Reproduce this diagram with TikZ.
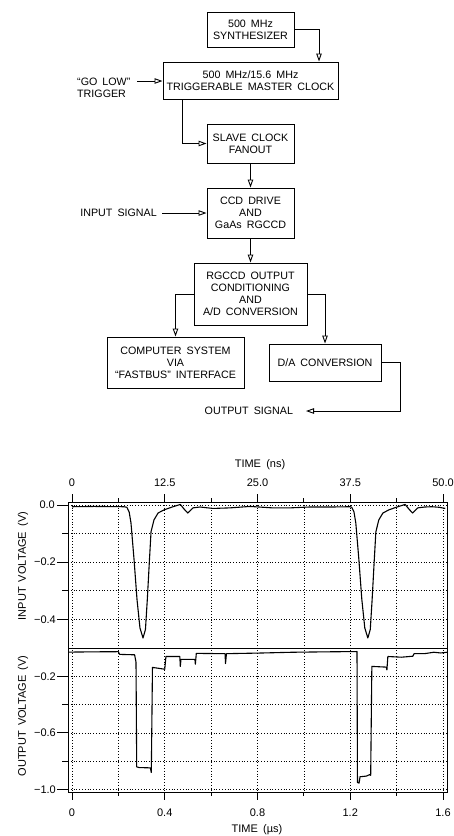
\documentclass[tikz,border=0pt]{standalone}
\usepackage{fontspec}
\setmainfont[WordSpace=1.7]{Liberation Sans}
\usetikzlibrary{arrows.meta}
\begin{document}
\begin{tikzpicture}[x=1pt,y=-1pt,
  box/.style={draw, line width=1pt, align=center, inner sep=0pt,
    font=\fontsize{10.7}{12}\selectfont},
  arr/.style={line width=0.9pt, -{Triangle[open,length=8pt,width=5.5pt]}},
  lbl/.style={inner sep=0pt, font=\fontsize{10.7}{12}\selectfont},
  tlbl/.style={inner sep=0pt, font=\fontsize{11}{12}\selectfont},
  frame/.style={line width=1pt},
  gridln/.style={line width=0.7pt, dash pattern=on 0.8pt off 2pt},
  wave/.style={line width=1.1pt, line join=round}]
\fill[white] (0,0) rectangle (454,836);
\useasboundingbox (0,0) rectangle (454,836);

% ---------------- block diagram ----------------
\node[box, minimum width=87pt, minimum height=35pt] (synth) at (250.5,29.5) {500 MHz\\SYNTHESIZER};
\node[box, minimum width=175pt, minimum height=37pt] (master) at (250.5,80.5) {500 MHz/15.6 MHz\\TRIGGERABLE MASTER CLOCK};
\node[box, minimum width=87pt, minimum height=39pt] (slave) at (250.5,143.5) {SLAVE CLOCK\\FANOUT};
\node[box, minimum width=87pt, minimum height=50pt] (ccd) at (250.5,213) {CCD DRIVE\\AND\\GaAs RGCCD};
\node[box, minimum width=113pt, minimum height=62pt] (rgccd) at (250.5,294) {RGCCD OUTPUT\\CONDITIONING\\AND\\A/D CONVERSION};
\node[box, minimum width=137pt, minimum height=51pt] (comp) at (175.5,362.5) {COMPUTER SYSTEM\\VIA\\“FASTBUS” INTERFACE};
\node[box, minimum width=112pt, minimum height=37pt] (da) at (325,362.5) {D/A CONVERSION};

\node[lbl, align=left, anchor=west] (trig) at (77,87.5) {“GO LOW”\\TRIGGER};
\coordinate (tg) at (137,81);
\node[lbl, anchor=east] (insig) at (157,213) {INPUT SIGNAL};
\node[lbl, anchor=east, outer xsep=13pt] (outsig) at (306,411) {OUTPUT SIGNAL};
\coordinate (dcorner) at (400,411);

\draw[arr] (synth.east) -| ([xshift=68.5pt]master.north);
\draw[arr] (tg) -- (tg -| master.west);
\draw[arr] ([xshift=-68.5pt]master.south) |- (slave.west);
\draw[arr] (slave.south) -- (ccd.north);
\draw[arr] ([xshift=5pt]insig.east) -- (ccd.west);
\draw[arr] (ccd.south) -- (rgccd.north);
\draw[arr] (rgccd.west) -| (comp.north);
\draw[arr] (rgccd.east) -| (da.north);
\draw[arr] (da.east) -| (dcorner) -- (outsig.east);

% ---------------- plots ----------------
% grid
\foreach \i in {0,...,8}
  \draw[gridln] ({72+46.375*\i},502) -- ({72+46.375*\i},792);
\foreach \yy in {505,533.6,562.2,590.8,619.4,676.3,704.6,732.9,761.2,789.5}
  \draw[gridln] (68,\yy) -- (447,\yy);
% frame
\draw[frame] (68,502) rectangle (447,792);
\draw[frame] (68,648) -- (447,648);
% top/bottom ticks
\foreach \i in {0,2,4,6,8} {
  \draw[frame] ({72+46.375*\i},502) -- ({72+46.375*\i},494);
  \draw[frame] ({72+46.375*\i},792) -- ({72+46.375*\i},800);
}
\foreach \i in {1,3,5,7} {
  \draw[frame] ({72+46.375*\i},502) -- ({72+46.375*\i},498);
  \draw[frame] ({72+46.375*\i},792) -- ({72+46.375*\i},796);
}
% left ticks
\foreach \yy in {505,562.2,619.4,676.3,732.9,789.5}
  \draw[frame] (57,\yy) -- (68,\yy);
\foreach \yy in {533.6,590.8,704.6,761.2}
  \draw[frame] (62,\yy) -- (68,\yy);

% tick labels
\node[tlbl] at (72,483) {0};
\node[tlbl] at (164.75,483) {12.5};
\node[tlbl] at (257.5,483) {25.0};
\node[tlbl] at (350.25,483) {37.5};
\node[tlbl] at (443,483) {50.0};
\node[tlbl] at (72,813) {0};
\node[tlbl] at (164.75,813) {0.4};
\node[tlbl] at (257.5,813) {0.8};
\node[tlbl] at (350.25,813) {1.2};
\node[tlbl] at (443,813) {1.6};
\node[tlbl, anchor=east] at (55,505) {0.0};
\node[tlbl, anchor=east] at (56,562.2) {−0.2};
\node[tlbl, anchor=east] at (56,619.4) {−0.4};
\node[tlbl, anchor=east] at (56,676.3) {−0.2};
\node[tlbl, anchor=east] at (56,732.9) {−0.6};
\node[tlbl, anchor=east] at (56,789.5) {−1.0};
\node[tlbl] at (260,465) {TIME (ns)};
\node[tlbl] at (257,830) {TIME (µs)};
\node[tlbl, rotate=90] at (23,566) {INPUT VOLTAGE (V)};
\node[tlbl, rotate=90] at (23,716) {OUTPUT VOLTAGE (V)};

% input waveform (t in ns, V in volts)
\begin{scope}[shift={(72pt,-505pt)}, x={(7.42pt,0pt)}, y={(0pt,286pt)}]
\draw[wave] (0,-0.006) -- (3,-0.005) -- (7.0,-0.006) -- (7.4,-0.008) -- (7.7,-0.024)
 -- (7.95,-0.063) -- (8.36,-0.19) -- (8.76,-0.33) -- (9.16,-0.43) -- (9.57,-0.465)
 -- (9.9,-0.435) -- (10.15,-0.33) -- (10.4,-0.21) -- (10.65,-0.094) -- (11.05,-0.052)
 -- (11.6,-0.028) -- (12.4,-0.017) -- (13.5,-0.007) -- (14.6,0.002) -- (15.1,-0.014)
 -- (15.6,-0.028) -- (16.3,-0.01) -- (17.25,-0.007) -- (19,-0.012) -- (21.3,-0.01)
 -- (24,-0.005) -- (27,-0.01) -- (29.4,-0.01) -- (32,-0.007) -- (35,-0.007) -- (37.5,-0.006)
 -- (37.7,-0.008) -- (38.0,-0.024) -- (38.25,-0.063) -- (38.66,-0.19) -- (39.06,-0.33)
 -- (39.46,-0.43) -- (39.87,-0.465) -- (40.2,-0.435) -- (40.45,-0.33) -- (40.7,-0.21)
 -- (40.95,-0.094) -- (41.35,-0.052) -- (41.9,-0.028) -- (42.7,-0.017) -- (43.8,-0.007)
 -- (44.9,0.002) -- (45.4,-0.014) -- (45.9,-0.028) -- (46.6,-0.01) -- (47.55,-0.007)
 -- (48.5,-0.006) -- (49.5,-0.008) -- (50.3,-0.012);
\end{scope}

% output waveform (t in us, V in volts)
\begin{scope}[shift={(72pt,-648pt)}, x={(231.9pt,0pt)}, y={(0pt,141.5pt)}]
\draw[wave] (-0.015,-0.029) -- (0.1,-0.027) -- (0.2,-0.026) -- (0.205,-0.045)
 -- (0.27,-0.048) -- (0.276,-0.1) -- (0.279,-0.84) -- (0.29,-0.845) -- (0.338,-0.847)
 -- (0.342,-0.88) -- (0.347,-0.137) -- (0.40,-0.15) -- (0.405,-0.06) -- (0.465,-0.06)
 -- (0.467,-0.13) -- (0.47,-0.08) -- (0.53,-0.08) -- (0.532,-0.115) -- (0.536,-0.038)
 -- (0.66,-0.04) -- (0.662,-0.11) -- (0.666,-0.04) -- (0.8,-0.036) -- (0.95,-0.03)
 -- (1.1,-0.027) -- (1.229,-0.025) -- (1.231,-0.95) -- (1.238,-0.955) -- (1.242,-0.91)
 -- (1.27,-0.905) -- (1.283,-0.895) -- (1.288,-0.9) -- (1.293,-0.13) -- (1.355,-0.135)
 -- (1.358,-0.155) -- (1.362,-0.06) -- (1.42,-0.065) -- (1.47,-0.058) -- (1.475,-0.04)
 -- (1.52,-0.04) -- (1.56,-0.03) -- (1.59,-0.035) -- (1.617,-0.03);
\end{scope}
\end{tikzpicture}
\end{document}
